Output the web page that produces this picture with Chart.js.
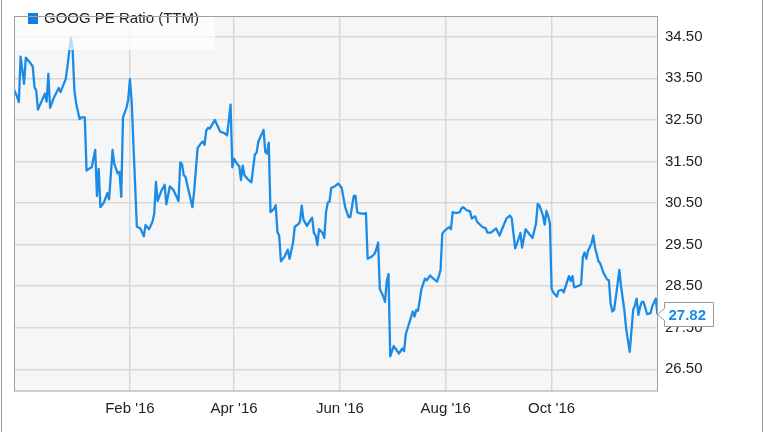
<!DOCTYPE html>
<html>
<head>
<meta charset="utf-8">
<script src="https://cdn.jsdelivr.net/npm/chart.js@4.4.1/dist/chart.umd.min.js"></script>
<style>
  html, body { margin: 0; padding: 0; background: #fff; }
  canvas { display: block; }
</style>
</head>
<body>
<canvas id="pechart" width="764" height="432"></canvas>
<script>
// days counted from 2015-11-25
var startDate = '2015-11-25';
var seriesName = 'GOOG PE Ratio (TTM)';

var dayOffsets = [1,3,4,5,7,8,10,12,13,14,15,17,19,20,21,22,24,27,28,31,32,34,35,36,37,39,40,42,43,45,46,48,49,50,51,53,55,56,58,59,61,62,63,64,66,67,68,69,72,74,76,77,79,81,82,83,84,86,88,89,91,93,96,97,98,99,100,104,105,107,109,110,111,112,113,114,117,118,120,122,124,126,127,128,129,131,132,133,134,136,138,140,141,142,145,146,147,148,149,151,152,153,154,155,157,159,160,162,163,165,166,167,168,170,172,173,174,175,176,177,179,180,181,182,183,184,186,188,190,192,193,194,195,197,198,199,200,203,204,205,207,209,210,211,212,214,215,216,217,218,220,221,223,225,226,227,229,231,232,233,234,235,236,238,239,241,242,245,246,247,248,249,251,252,253,254,256,258,259,260,262,264,265,267,268,271,273,274,276,279,281,283,285,287,288,290,292,293,294,296,298,300,302,303,304,306,307,308,309,310,311,312,314,315,317,318,320,321,322,323,324,326,328,329,330,331,332,334,335,336,338,339,341,343,344,345,346,347,349,350,351,353,354,356,358,359,360,361,362,363,364,366,368,369,371,372];

var peRatio = [33.25,33.06,32.93,34.02,33.37,34.0,33.9,33.79,33.29,33.21,32.75,32.94,33.13,32.94,33.61,32.79,33.02,33.27,33.17,33.48,33.79,34.48,34.18,33.21,32.90,32.52,32.56,32.56,31.28,31.34,31.36,31.78,30.67,31.32,30.40,30.51,30.74,30.59,31.78,31.44,31.21,31.25,30.65,32.56,32.79,32.98,33.48,32.94,29.93,29.89,29.70,29.97,29.87,30.05,30.24,31.01,30.55,30.78,30.94,30.47,30.90,30.82,30.55,31.48,31.44,31.17,31.13,30.40,30.78,31.82,31.94,31.98,31.90,32.25,32.31,32.29,32.50,32.40,32.22,32.19,32.13,32.87,31.36,31.57,31.49,31.38,31.05,31.40,31.17,31.07,31.00,31.67,31.71,31.98,32.26,31.73,31.69,31.95,30.28,30.36,30.45,29.80,29.72,29.10,29.20,29.38,29.16,29.55,29.93,29.99,30.05,30.44,30.10,29.95,30.09,30.15,29.78,29.72,29.49,29.87,29.78,29.66,30.28,30.51,30.53,30.86,30.90,30.97,30.87,30.41,30.28,30.16,30.16,30.67,30.67,30.28,30.26,30.24,30.26,29.16,29.20,29.28,29.39,29.55,28.43,28.25,28.12,28.62,28.79,26.81,27.06,27.00,26.88,27.00,26.94,27.35,27.62,27.89,27.77,27.93,27.91,28.16,28.43,28.68,28.64,28.76,28.71,28.61,28.74,28.89,29.76,29.82,29.89,29.92,29.87,30.28,30.26,30.28,30.37,30.40,30.33,30.30,30.13,30.18,30.05,29.93,29.89,29.79,29.79,29.89,29.72,29.93,30.13,30.20,30.13,29.41,29.64,29.78,29.43,29.87,29.76,29.66,30.01,30.48,30.44,30.20,29.98,30.31,30.19,30.01,28.43,28.35,28.25,28.39,28.41,28.35,28.62,28.74,28.62,28.74,28.47,28.50,28.54,29.20,29.31,29.16,29.35,29.53,29.72,29.43,29.10,29.05,28.81,28.66,28.64,28.08,27.89,27.93,28.54,28.89,28.50,27.89,27.46,26.92,27.93,28.04,28.20,27.81,28.00,28.12,28.12,27.83,27.85,28.02,28.20,27.82];

var tickDates = ['2016-02-01','2016-04-01','2016-06-01','2016-08-01','2016-10-01'];
var tickLabels = ["Feb '16", "Apr '16", "Jun '16", "Aug '16", "Oct '16"];
var yTicks = [26.5, 27.5, 28.5, 29.5, 30.5, 31.5, 32.5, 33.5, 34.5];

var lineColor = '#1a8be6';
var fontFamily = "'Liberation Sans', Arial, sans-serif";

function dayOf(s) {
  return (Date.parse(s) - Date.parse(startDate)) / 86400000;
}
var tickDays = tickDates.map(dayOf);

var points = [];
for (var i = 0; i < dayOffsets.length; i++) {
  points.push({x: dayOffsets[i], y: peRatio[i]});
}

var framePlugin = {
  id: 'frame',
  beforeDraw: function(chart) {
    var c = chart.ctx, a = chart.chartArea;
    c.save();
    c.fillStyle = '#f6f6f6';
    c.fillRect(a.left, a.top, a.right - a.left, a.bottom - a.top);
    c.restore();
  },
  afterDatasetsDraw: function(chart) {
    var c = chart.ctx, a = chart.chartArea;
    c.save();
    // legend inside the plot
    c.fillStyle = 'rgba(255,255,255,0.7)';
    c.fillRect(a.left, a.top, 201, 34);
    c.fillStyle = '#0f80e0';
    c.fillRect(28, 13, 10, 11);
    c.fillStyle = '#222';
    c.font = '15px ' + fontFamily;
    c.textBaseline = 'middle';
    c.fillText(seriesName, 44, 19);
    // plot frame
    c.strokeStyle = '#a0a0a0';
    c.lineWidth = 1;
    c.strokeRect(a.left + 0.5, a.top + 0.5, a.right - a.left - 1, a.bottom - a.top);
    // outer lines
    c.strokeStyle = '#999';
    c.beginPath();
    c.moveTo(1.5, 0); c.lineTo(1.5, chart.height);
    c.moveTo(762.5, 0); c.lineTo(762.5, chart.height);
    c.stroke();
    // last value flag
    var last = peRatio[peRatio.length - 1];
    var y = Math.round(chart.scales.y.getPixelForValue(last)) + 0.5;
    var x0 = a.right + 6.5, x1 = x0 + 49;
    c.beginPath();
    c.moveTo(a.right - 0.5, y);
    c.lineTo(x0, y - 6);
    c.lineTo(x0, y - 12);
    c.lineTo(x1, y - 12);
    c.lineTo(x1, y + 12);
    c.lineTo(x0, y + 12);
    c.lineTo(x0, y + 6);
    c.closePath();
    c.fillStyle = '#fff';
    c.fill();
    c.strokeStyle = '#999';
    c.stroke();
    c.fillStyle = lineColor;
    c.font = 'bold 15px ' + fontFamily;
    c.textBaseline = 'middle';
    c.fillText(last.toFixed(2), x0 + 4, y + 1);
    c.restore();
  }
};

var ctx = document.getElementById('pechart');
var peChart = new Chart(ctx, {
  type: 'line',
  data: {
    datasets: [{
      label: seriesName,
      data: points,
      borderColor: lineColor,
      borderWidth: 2.3,
      pointRadius: 0,
      tension: 0,
      fill: false,
      borderJoinStyle: 'round'
    }]
  },
  options: {
    responsive: false,
    devicePixelRatio: 1,
    animation: false,
    layout: {padding: {left: 14, top: 1, right: 0, bottom: 0}},
    plugins: {legend: {display: false}, tooltip: {enabled: false}},
    scales: {
      x: {
        type: 'linear',
        min: 1.2,
        max: 372.3,
        afterBuildTicks: function(s) {
          s.ticks = tickDays.map(function(v) { return {value: v}; });
        },
        afterFit: function(s) { s.height = 41.5; },
        ticks: {
          autoSkip: false,
          maxRotation: 0,
          padding: 9,
          color: '#222',
          font: {family: fontFamily, size: 15},
          callback: function(v) {
            var k = tickDays.indexOf(v);
            return k >= 0 ? tickLabels[k] : '';
          }
        },
        grid: {color: '#d8d8d8', lineWidth: 1.5, drawTicks: false},
        border: {display: false}
      },
      y: {
        position: 'right',
        min: 25.99,
        max: 35.0,
        afterBuildTicks: function(s) {
          s.ticks = yTicks.map(function(v) { return {value: v}; });
        },
        afterFit: function(s) { s.width = 106; },
        ticks: {
          padding: 7,
          color: '#222',
          font: {family: fontFamily, size: 15},
          callback: function(v) { return Number(v).toFixed(2); }
        },
        grid: {color: '#d8d8d8', lineWidth: 1.5, drawTicks: false},
        border: {display: false}
      }
    }
  },
  plugins: [framePlugin]
});
</script>
</body>
</html>
